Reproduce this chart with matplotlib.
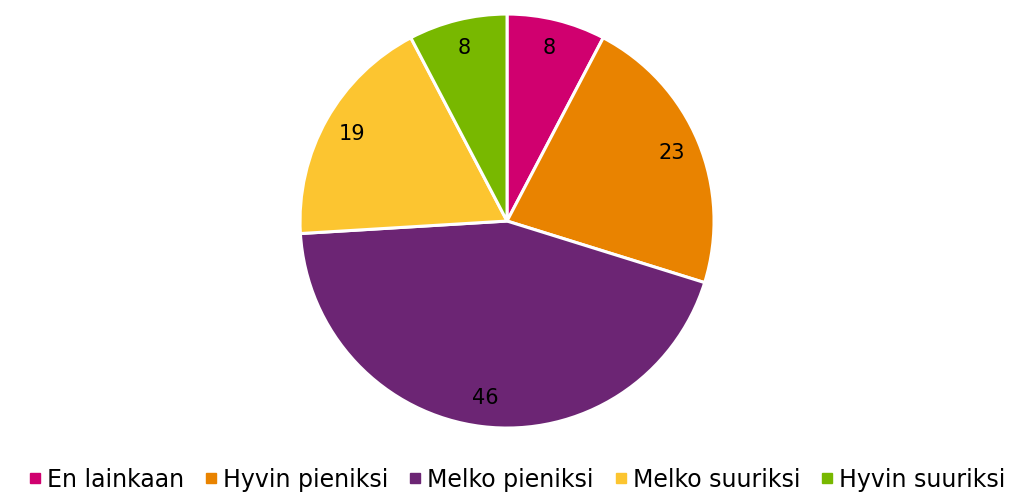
import matplotlib
matplotlib.use("Agg")
import matplotlib.pyplot as plt
from matplotlib.lines import Line2D
import numpy as np

categories = ["En lainkaan", "Hyvin pieniksi", "Melko pieniksi", "Melko suuriksi", "Hyvin suuriksi"]
values = [8, 23, 46, 19, 8]
colors = ["#D0006F", "#E98300", "#6C2574", "#FCC530", "#78B800"]

fig = plt.figure(figsize=(10.16, 4.96), dpi=100)
ax = fig.add_axes([0.2953, 0.137, 0.4075, 0.8347])
wedges, texts = ax.pie(values, colors=colors, startangle=90, counterclock=False,
                       wedgeprops=dict(edgecolor="white", linewidth=2.2), radius=1)
total = sum(values)
cum = 0
for v in values:
    mid = 90 - (cum + v / 2) / total * 360
    cum += v
    r = 0.86
    ax.text(r * np.cos(np.radians(mid)), r * np.sin(np.radians(mid)), str(v),
            ha="center", va="center", fontsize=15, color="black")
ax.set_xlim(-1, 1)
ax.set_ylim(-1, 1)
ax.set_aspect("equal")
ax.axis("off")

handles = [Line2D([0], [0], marker="s", linestyle="none", markersize=7,
                  markerfacecolor=c, markeredgecolor=c) for c in colors]
fig.legend(handles, categories, loc="center", bbox_to_anchor=(0.508, 0.033), ncol=5,
           frameon=False, fontsize=17, handletextpad=0.15, columnspacing=0.8,
           handlelength=0.7)
fig.savefig("out.png", dpi=100)
